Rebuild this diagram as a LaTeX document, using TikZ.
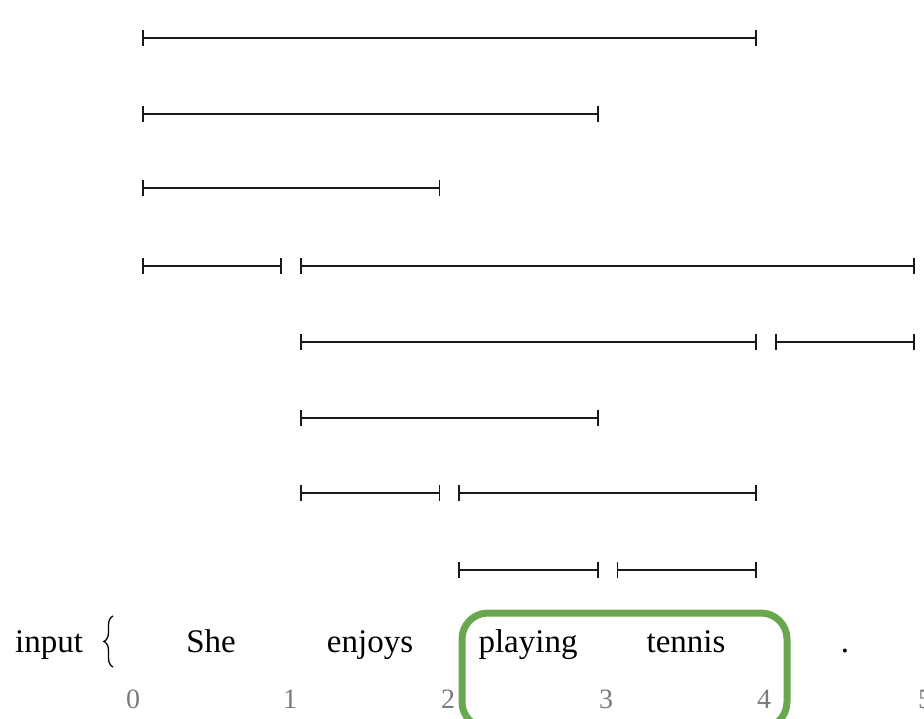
\documentclass[tikz,border=0pt]{standalone}
\usepackage{fontspec}
\setmainfont{Liberation Serif}
\usetikzlibrary{arrows.meta,decorations.pathreplacing}
\definecolor{boxgreen}{HTML}{6AA84F}
\definecolor{numgray}{HTML}{7A7A7A}
\begin{document}
\begin{tikzpicture}[x=1pt,y=-1pt,
  span/.style={line width=1.6pt, color=black!90, {Bar[width=16pt,line width=1.8pt]}-{Bar[width=16pt,line width=1.8pt]}},
  word/.style={font=\fontsize{33}{40}\selectfont, anchor=base, inner sep=0pt},
  num/.style={font=\fontsize{28}{32}\selectfont, text=numgray, anchor=base, inner sep=0pt},
  hl/.style={draw=boxgreen, line width=7pt, rounded corners=26pt}]
\useasboundingbox (0,0) rectangle (924,719);
\begin{scope}
\clip (0,0) rectangle (924,719);
% spans: row y / from / to
\foreach \y/\i/\j [count=\k] in {38/0/4, 114/0/3, 188/0/2, 266/0/1, 266/1/5, 342/1/4, 342/4/5, 418/1/3, 493/1/2, 493/2/4, 570/2/3, 570/3/4}{
  \coordinate (s\k) at ({142+158.2*\i},\y);
  \coordinate (e\k) at ({124+158.2*\j},\y);
  \draw[span] (s\k) -- (e\k);
}
% words
\node[word] (input) at (49,652) {input};
\draw[line width=1.3pt, decorate, decoration={brace, amplitude=9pt}] (113,667) -- (113,616);
\node[word] (w1) at (211,652) {She};
\node[word] (w2) at (370,652) {enjoys};
\node[word] (w3) at (528,652) {playing};
\node[word] (w4) at (686,652) {tennis};
\node[word] (w5) at (845,652) {.};
% numbers
\foreach \n/\x in {0/133, 1/290, 2/448, 3/606, 4/764, 5/925}{
  \node[num] (n\n) at (\x,708) {\n};
}
% highlight box
\draw[hl] (462,613) rectangle (787,728);
\end{scope}
\end{tikzpicture}
\end{document}
